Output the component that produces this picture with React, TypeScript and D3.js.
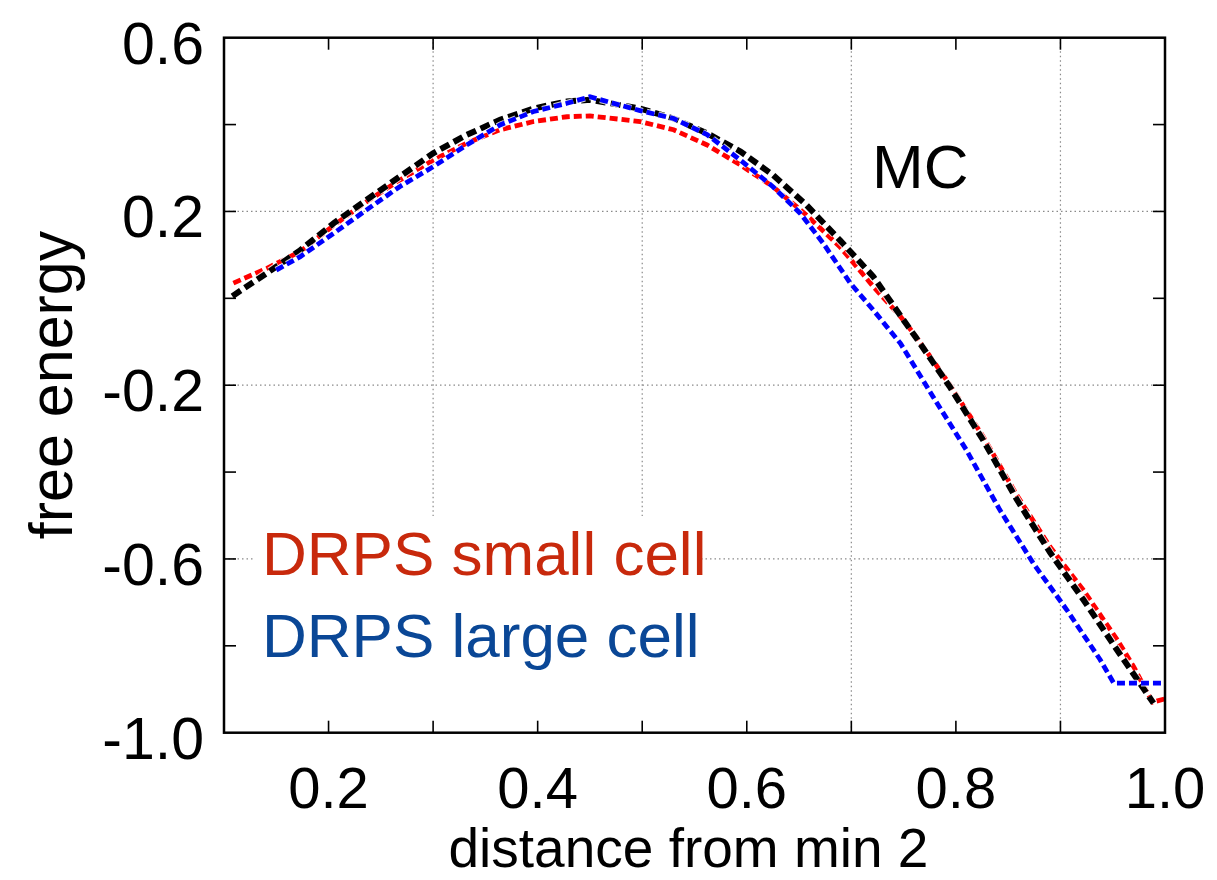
import React from 'react';
import * as d3 from 'd3';

// MC (black dashed)
const mcX = [0.108, 0.141, 0.173, 0.205, 0.236, 0.268, 0.300, 0.332, 0.364, 0.396, 0.428, 0.450, 0.498, 0.530, 0.562, 0.594, 0.625, 0.657, 0.689, 0.721, 0.747, 0.762, 0.794, 0.826, 0.858, 0.890, 0.922, 0.954, 0.989];
const mcY = [0.005, 0.058, 0.111, 0.173, 0.226, 0.280, 0.334, 0.376, 0.411, 0.437, 0.453, 0.457, 0.437, 0.414, 0.380, 0.338, 0.284, 0.215, 0.134, 0.050, -0.040, -0.091, -0.203, -0.326, -0.462, -0.585, -0.694, -0.809, -0.932];

// DRPS small cell (red dashed)
const smallX = [0.109, 0.141, 0.173, 0.205, 0.236, 0.268, 0.300, 0.332, 0.364, 0.396, 0.428, 0.450, 0.498, 0.530, 0.562, 0.594, 0.625, 0.657, 0.689, 0.721, 0.747, 0.762, 0.794, 0.826, 0.858, 0.890, 0.922, 0.954, 0.970, 0.988, 1.0];
const smallY = [0.035, 0.069, 0.108, 0.168, 0.222, 0.272, 0.318, 0.357, 0.388, 0.407, 0.418, 0.420, 0.407, 0.388, 0.353, 0.307, 0.257, 0.192, 0.119, 0.027, -0.042, -0.088, -0.198, -0.318, -0.452, -0.572, -0.672, -0.785, -0.848, -0.930, -0.922];

// DRPS large cell (blue dashed)
const largeX = [0.150, 0.173, 0.205, 0.236, 0.268, 0.300, 0.332, 0.364, 0.396, 0.428, 0.450, 0.498, 0.530, 0.562, 0.594, 0.625, 0.651, 0.673, 0.699, 0.721, 0.747, 0.778, 0.810, 0.842, 0.874, 0.906, 0.938, 0.951, 1.0];
const largeY = [0.065, 0.096, 0.150, 0.203, 0.257, 0.303, 0.353, 0.399, 0.430, 0.449, 0.464, 0.432, 0.414, 0.377, 0.318, 0.257, 0.196, 0.127, 0.035, -0.027, -0.104, -0.226, -0.349, -0.487, -0.610, -0.717, -0.832, -0.886, -0.886];

const xMinorTicks = [0.2, 0.3, 0.4, 0.5, 0.6, 0.7, 0.8, 0.9];
const xTickLabels = [0.2, 0.4, 0.6, 0.8, 1.0];
const xGrid = [0.3, 0.5, 0.7, 0.9];
const yMinorTicks = [0.4, 0.2, 0.0, -0.2, -0.4, -0.6, -0.8];
const yTickLabels = [0.6, 0.2, -0.2, -0.6, -1.0];
const yGrid = [0.2, -0.2, -0.6];

const legendLabels = ['DRPS small cell', 'DRPS large cell'];
const legendColors = ['#c8290c', '#0a4796'];

const FONT = '"Liberation Sans", Arial, Helvetica, sans-serif';

export default function App() {
  const W = 1217;
  const H = 880;
  const L = 224, R = 1165, T = 37.7, B = 732.7;
  const x = d3.scaleLinear().domain([0.1, 1.0]).range([L, R]);
  const y = d3.scaleLinear().domain([-1.0, 0.6]).range([B, T]);
  const line = d3.line<[number, number]>().x(d => x(d[0])).y(d => y(d[1]));
  const zip = (xs: number[], ys: number[]) => xs.map((v, i) => [v, ys[i]] as [number, number]);

  const series = [
    { pts: zip(smallX, smallY), color: '#ff0000', w: 4.8, dash: '8,4' },
    { pts: zip(mcX, mcY), color: '#000000', w: 6, dash: '10,5' },
    { pts: zip(largeX, largeY), color: '#0000ff', w: 4.8, dash: '8,4' },
  ];
  const tickLen = 12;
  const fmt = (v: number) => v.toFixed(1);

  return (
    <svg width={W} height={H} style={{ position: 'absolute', left: 0, top: 0, background: '#fff' }} fontFamily={FONT}>
      <rect x={0} y={0} width={W} height={H} fill="#fff" />
      {/* grid */}
      {xGrid.map(v => (
        <line key={'gx' + v} x1={x(v)} x2={x(v)} y1={T} y2={B} stroke="#8a8a8a" strokeWidth={1.2} strokeDasharray="1.5,3" />
      ))}
      {yGrid.map(v => (
        <line key={'gy' + v} x1={L} x2={R} y1={y(v)} y2={y(v)} stroke="#8a8a8a" strokeWidth={1.2} strokeDasharray="1.5,3" />
      ))}
      {/* legend background box */}
      <rect x={253} y={516} width={444} height={B - 516 - 1} fill="#fff" />
      {/* curves */}
      {series.map((s, i) => (
        <g key={'s' + i}>
          <path d={line(s.pts) || ''} fill="none" stroke="#fff" strokeWidth={s.w + 2} strokeDasharray={s.dash} strokeOpacity={0.8} />
          <path d={line(s.pts) || ''} fill="none" stroke={s.color} strokeWidth={s.w} strokeDasharray={s.dash} />
        </g>
      ))}
      {/* frame */}
      <rect x={L} y={T} width={R - L} height={B - T} fill="none" stroke="#000" strokeWidth={2.5} />
      {/* ticks */}
      {xMinorTicks.map(v => (
        <g key={'tx' + v}>
          <line x1={x(v)} x2={x(v)} y1={B} y2={B - tickLen} stroke="#000" strokeWidth={1.6} />
          <line x1={x(v)} x2={x(v)} y1={T} y2={T + tickLen} stroke="#000" strokeWidth={1.6} />
        </g>
      ))}
      {yMinorTicks.map(v => (
        <g key={'ty' + v}>
          <line x1={L} x2={L + tickLen} y1={y(v)} y2={y(v)} stroke="#000" strokeWidth={1.6} />
          <line x1={R} x2={R - tickLen} y1={y(v)} y2={y(v)} stroke="#000" strokeWidth={1.6} />
        </g>
      ))}
      {/* tick labels */}
      {xTickLabels.map(v => (
        <text key={'lx' + v} x={x(v)} y={808} textAnchor="middle" fontSize={58} fill="#000">{fmt(v)}</text>
      ))}
      {yTickLabels.map(v => (
        <text key={'ly' + v} x={204} y={y(v) + 26} textAnchor="end" fontSize={59} fill="#000">{fmt(v)}</text>
      ))}
      {/* axis titles */}
      <text x={(L + R) / 2 - 6} y={867} textAnchor="middle" fontSize={55} fill="#000">distance from min 2</text>
      <text transform={`translate(72,385) rotate(-90)`} textAnchor="middle" fontSize={61} fill="#000">free energy</text>
      {/* annotations */}
      <text x={872} y={188} fontSize={62} fill="#000">MC</text>
      {legendLabels.map((t, i) => (
        <text key={'lg' + i} x={262} y={575 + i * 82} fontSize={62} fill={legendColors[i]}>{t}</text>
      ))}
    </svg>
  );
}
